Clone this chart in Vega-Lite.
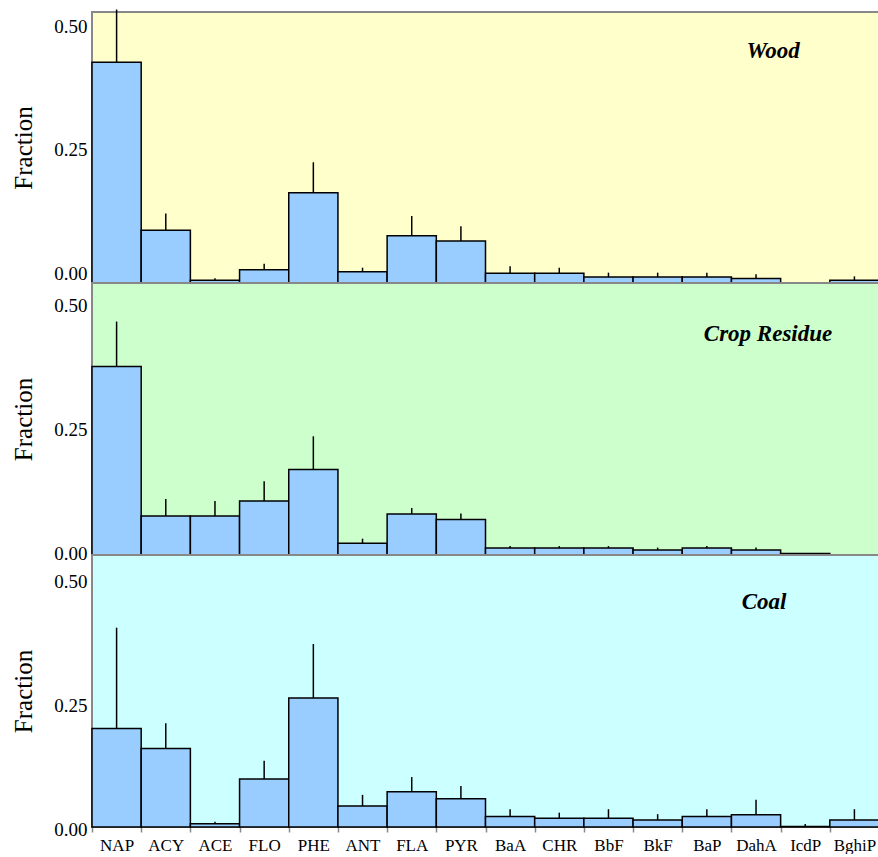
{
  "$schema": "https://vega.github.io/schema/vega-lite/v6.json",
  "padding": {"left": 10, "top": 7, "right": 0, "bottom": 0},
  "spacing": 0,
  "bounds": "flush",
  "background": "white",
  "config": {
    "font": "Liberation Serif",
    "view": {"stroke": "#888888", "strokeWidth": 2},
    "concat": {"spacing": 0},
    "axis": {"labelColor": "black", "titleColor": "black", "grid": false, "domain": false, "labelFont": "Liberation Serif", "titleFont": "Liberation Serif"}
  },
  "datasets": {
    "pah": [
      {"source": "Wood", "pah": "NAP", "value": 0.448, "upper": 0.555},
      {"source": "Wood", "pah": "ACY", "value": 0.107, "upper": 0.141},
      {"source": "Wood", "pah": "ACE", "value": 0.0055, "upper": 0.0095},
      {"source": "Wood", "pah": "FLO", "value": 0.027, "upper": 0.039},
      {"source": "Wood", "pah": "PHE", "value": 0.183, "upper": 0.245},
      {"source": "Wood", "pah": "ANT", "value": 0.023, "upper": 0.031},
      {"source": "Wood", "pah": "FLA", "value": 0.096, "upper": 0.136},
      {"source": "Wood", "pah": "PYR", "value": 0.085, "upper": 0.115},
      {"source": "Wood", "pah": "BaA", "value": 0.020, "upper": 0.034},
      {"source": "Wood", "pah": "CHR", "value": 0.020, "upper": 0.031},
      {"source": "Wood", "pah": "BbF", "value": 0.012, "upper": 0.021},
      {"source": "Wood", "pah": "BkF", "value": 0.012, "upper": 0.021},
      {"source": "Wood", "pah": "BaP", "value": 0.012, "upper": 0.021},
      {"source": "Wood", "pah": "DahA", "value": 0.009, "upper": 0.018},
      {"source": "Wood", "pah": "IcdP", "value": 0.0, "upper": 0.002},
      {"source": "Wood", "pah": "BghiP", "value": 0.0055, "upper": 0.0135},
      {"source": "Crop Residue", "pah": "NAP", "value": 0.381, "upper": 0.472},
      {"source": "Crop Residue", "pah": "ACY", "value": 0.079, "upper": 0.113},
      {"source": "Crop Residue", "pah": "ACE", "value": 0.079, "upper": 0.109},
      {"source": "Crop Residue", "pah": "FLO", "value": 0.109, "upper": 0.149},
      {"source": "Crop Residue", "pah": "PHE", "value": 0.173, "upper": 0.240},
      {"source": "Crop Residue", "pah": "ANT", "value": 0.024, "upper": 0.033},
      {"source": "Crop Residue", "pah": "FLA", "value": 0.083, "upper": 0.095},
      {"source": "Crop Residue", "pah": "PYR", "value": 0.072, "upper": 0.084},
      {"source": "Crop Residue", "pah": "BaA", "value": 0.014, "upper": 0.018},
      {"source": "Crop Residue", "pah": "CHR", "value": 0.014, "upper": 0.018},
      {"source": "Crop Residue", "pah": "BbF", "value": 0.014, "upper": 0.018},
      {"source": "Crop Residue", "pah": "BkF", "value": 0.010, "upper": 0.015},
      {"source": "Crop Residue", "pah": "BaP", "value": 0.014, "upper": 0.018},
      {"source": "Crop Residue", "pah": "DahA", "value": 0.010, "upper": 0.015},
      {"source": "Crop Residue", "pah": "IcdP", "value": 0.003, "upper": 0.004},
      {"source": "Crop Residue", "pah": "BghiP", "value": 0.0, "upper": 0.0},
      {"source": "Coal", "pah": "NAP", "value": 0.199, "upper": 0.403},
      {"source": "Coal", "pah": "ACY", "value": 0.1585, "upper": 0.21},
      {"source": "Coal", "pah": "ACE", "value": 0.0067, "upper": 0.0107},
      {"source": "Coal", "pah": "FLO", "value": 0.097, "upper": 0.134},
      {"source": "Coal", "pah": "PHE", "value": 0.261, "upper": 0.370},
      {"source": "Coal", "pah": "ANT", "value": 0.0425, "upper": 0.065},
      {"source": "Coal", "pah": "FLA", "value": 0.0715, "upper": 0.101},
      {"source": "Coal", "pah": "PYR", "value": 0.057, "upper": 0.083},
      {"source": "Coal", "pah": "BaA", "value": 0.021, "upper": 0.036},
      {"source": "Coal", "pah": "CHR", "value": 0.0176, "upper": 0.029},
      {"source": "Coal", "pah": "BbF", "value": 0.0176, "upper": 0.036},
      {"source": "Coal", "pah": "BkF", "value": 0.014, "upper": 0.026},
      {"source": "Coal", "pah": "BaP", "value": 0.021, "upper": 0.036},
      {"source": "Coal", "pah": "DahA", "value": 0.025, "upper": 0.055},
      {"source": "Coal", "pah": "IcdP", "value": 0.001, "upper": 0.006},
      {"source": "Coal", "pah": "BghiP", "value": 0.014, "upper": 0.036}
    ]
  },
  "vconcat": [
    {
      "width": 787, "height": 271,
      "view": {"fill": "#FFFFCC"},
      "layer": [
        {
          "data": {"name": "pah"},
          "transform": [{"filter": "datum.source === 'Wood'"}],
          "mark": {"type": "bar", "fill": "#99CCFF", "stroke": "black", "strokeWidth": 1.5},
          "encoding": {
            "x": {"field": "pah", "type": "nominal", "sort": null, "scale": {"domain": ["NAP","ACY","ACE","FLO","PHE","ANT","FLA","PYR","BaA","CHR","BbF","BkF","BaP","DahA","IcdP","BghiP"], "paddingInner": 0, "paddingOuter": 0}, "axis": null},
            "y": {"field": "value", "type": "quantitative", "scale": {"domain": [0, 0.55], "nice": false}, "axis": {"title": "Fraction", "values": [0, 0.25, 0.5], "format": ".2f", "ticks": false, "labelFontSize": 19, "titleFontSize": 25, "titleFontWeight": "normal", "labelPadding": 5, "titlePadding": 17, "labelOffset": -10}}
          }
        },
        {
          "data": {"name": "pah"},
          "transform": [{"filter": "datum.source === 'Wood'"}],
          "mark": {"type": "rule", "stroke": "black", "strokeWidth": 1.5},
          "encoding": {
            "x": {"field": "pah", "type": "nominal", "sort": null},
            "y": {"field": "value", "type": "quantitative"},
            "y2": {"field": "upper"}
          }
        },
        {
          "data": {"values": [{"label": "Wood", "pah": "DahA", "pos": 0.47}]},
          "mark": {"type": "text", "font": "Liberation Serif", "fontSize": 23, "fontWeight": "bold", "fontStyle": "italic", "baseline": "middle", "align": "center", "dx": 17, "color": "black"},
          "encoding": {
            "x": {"field": "pah", "type": "nominal", "sort": null},
            "y": {"field": "pos", "type": "quantitative"},
            "text": {"field": "label"}
          }
        }
      ]
    },
    {
      "width": 787, "height": 272,
      "view": {"fill": "#CCFFCC"},
      "layer": [
        {
          "data": {"name": "pah"},
          "transform": [{"filter": "datum.source === 'Crop Residue'"}],
          "mark": {"type": "bar", "fill": "#99CCFF", "stroke": "black", "strokeWidth": 1.5},
          "encoding": {
            "x": {"field": "pah", "type": "nominal", "sort": null, "scale": {"domain": ["NAP","ACY","ACE","FLO","PHE","ANT","FLA","PYR","BaA","CHR","BbF","BkF","BaP","DahA","IcdP","BghiP"], "paddingInner": 0, "paddingOuter": 0}, "axis": null},
            "y": {"field": "value", "type": "quantitative", "scale": {"domain": [0, 0.55], "nice": false}, "axis": {"title": "Fraction", "values": [0, 0.25, 0.5], "format": ".2f", "ticks": false, "labelFontSize": 19, "titleFontSize": 25, "titleFontWeight": "normal", "labelPadding": 5, "titlePadding": 17, "labelOffset": -2}}
          }
        },
        {
          "data": {"name": "pah"},
          "transform": [{"filter": "datum.source === 'Crop Residue'"}],
          "mark": {"type": "rule", "stroke": "black", "strokeWidth": 1.5},
          "encoding": {
            "x": {"field": "pah", "type": "nominal", "sort": null},
            "y": {"field": "value", "type": "quantitative"},
            "y2": {"field": "upper"}
          }
        },
        {
          "data": {"values": [{"label": "Crop Residue", "pah": "DahA", "pos": 0.447}]},
          "mark": {"type": "text", "font": "Liberation Serif", "fontSize": 23, "fontWeight": "bold", "fontStyle": "italic", "baseline": "middle", "align": "center", "dx": 12, "color": "black"},
          "encoding": {
            "x": {"field": "pah", "type": "nominal", "sort": null},
            "y": {"field": "pos", "type": "quantitative"},
            "text": {"field": "label"}
          }
        }
      ]
    },
    {
      "width": 787, "height": 272,
      "view": {"fill": "#CCFFFF"},
      "layer": [
        {
          "data": {"name": "pah"},
          "transform": [{"filter": "datum.source === 'Coal'"}],
          "mark": {"type": "bar", "fill": "#99CCFF", "stroke": "black", "strokeWidth": 1.5},
          "encoding": {
            "x": {"field": "pah", "type": "nominal", "sort": null, "scale": {"domain": ["NAP","ACY","ACE","FLO","PHE","ANT","FLA","PYR","BaA","CHR","BbF","BkF","BaP","DahA","IcdP","BghiP"], "paddingInner": 0, "paddingOuter": 0}, "axis": {"title": null, "labelAngle": 0, "labelFontSize": 17, "ticks": true, "tickBand": "extent", "tickColor": "#888888", "tickSize": 5, "tickWidth": 1.5, "labelPadding": 5}},
            "y": {"field": "value", "type": "quantitative", "scale": {"domain": [0, 0.55], "nice": false}, "axis": {"title": "Fraction", "values": [0, 0.25, 0.5], "format": ".2f", "ticks": false, "labelFontSize": 19, "titleFontSize": 25, "titleFontWeight": "normal", "labelPadding": 5, "titlePadding": 17, "labelOffset": 2}}
          }
        },
        {
          "data": {"name": "pah"},
          "transform": [{"filter": "datum.source === 'Coal'"}],
          "mark": {"type": "rule", "stroke": "black", "strokeWidth": 1.5},
          "encoding": {
            "x": {"field": "pah", "type": "nominal", "sort": null},
            "y": {"field": "value", "type": "quantitative"},
            "y2": {"field": "upper"}
          }
        },
        {
          "data": {"values": [{"label": "Coal", "pah": "DahA", "pos": 0.454}]},
          "mark": {"type": "text", "font": "Liberation Serif", "fontSize": 23, "fontWeight": "bold", "fontStyle": "italic", "baseline": "middle", "align": "center", "dx": 8, "color": "black"},
          "encoding": {
            "x": {"field": "pah", "type": "nominal", "sort": null},
            "y": {"field": "pos", "type": "quantitative"},
            "text": {"field": "label"}
          }
        }
      ]
    }
  ]
}
